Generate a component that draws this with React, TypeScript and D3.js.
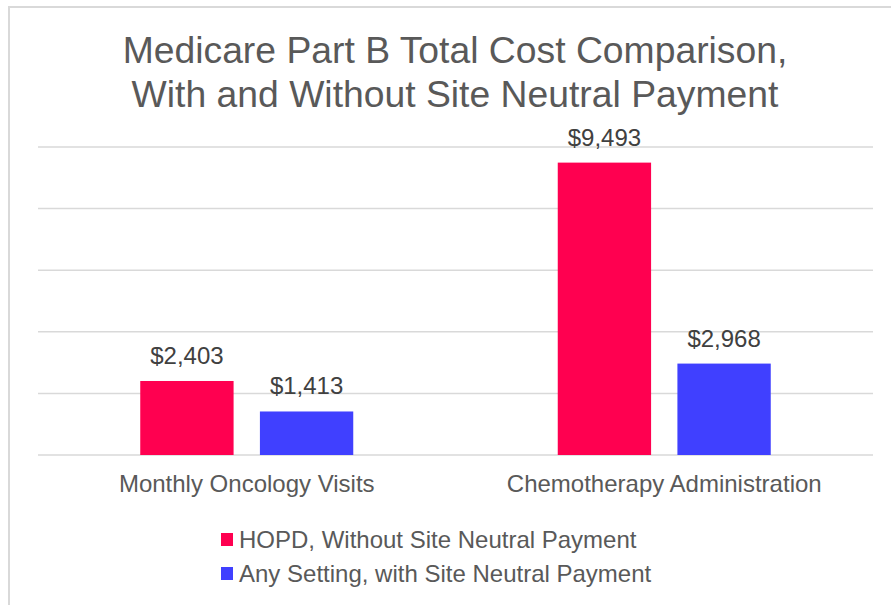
import { useEffect, useRef } from 'react'
import * as d3 from 'd3'

const categories = ['Monthly Oncology Visits', 'Chemotherapy Administration']
const seriesNames = ['HOPD, Without Site Neutral Payment', 'Any Setting, with Site Neutral Payment']
const hopdValues = [2403, 9493]
const anySettingValues = [1413, 2968]
const gridTicks = [0, 2000, 4000, 6000, 8000, 10000]
const titleLines = ['Medicare Part B Total Cost Comparison,', 'With and Without Site Neutral Payment']

const colors = ['#FF0050', '#4040FF']
const textColor = '#595959'
const gridColor = '#d9d9d9'
const font = '"Liberation Sans", Arial, sans-serif'

function App() {
  const chartRef = useRef<SVGSVGElement>(null)

  useEffect(() => {
    const width = 891
    const height = 605
    const left = 38
    const right = 873
    const top = 147
    const bottom = 455

    const svg = d3.select(chartRef.current)
    svg.selectAll('*').remove()

    svg.append('rect')
      .attr('width', width)
      .attr('height', height)
      .attr('fill', '#fff')

    // Outer chart border (cut off on the right and bottom)
    svg.append('rect')
      .attr('x', 9)
      .attr('y', 7)
      .attr('width', width + 20)
      .attr('height', height + 20)
      .attr('fill', 'none')
      .attr('stroke', gridColor)
      .attr('stroke-width', 2)

    // Title
    svg.append('text')
      .attr('x', 455)
      .attr('text-anchor', 'middle')
      .style('font-family', font)
      .style('font-size', '37.3px')
      .style('fill', textColor)
      .selectAll('tspan')
      .data(titleLines)
      .join('tspan')
      .attr('x', 455)
      .attr('y', (d, i) => 63 + i * 44)
      .text(d => d)

    const y = d3.scaleLinear()
      .domain([0, 10000])
      .range([bottom, top])

    const x0 = d3.scaleBand()
      .domain(categories)
      .range([left, right])

    const groupWidth = 213
    const x1 = d3.scaleBand()
      .domain(seriesNames)
      .range([-groupWidth / 2, groupWidth / 2])
      .paddingInner(0.22)

    // Gridlines
    gridTicks.forEach(t => {
      svg.append('line')
        .attr('x1', left)
        .attr('x2', right)
        .attr('y1', y(t))
        .attr('y2', y(t))
        .attr('stroke', gridColor)
        .attr('stroke-width', 1.5)
    })

    const series = [hopdValues, anySettingValues]

    series.forEach((values, s) => {
      values.forEach((v, i) => {
        const cx = x0(categories[i])! + x0.bandwidth() / 2
        const bx = cx + x1(seriesNames[s])!
        svg.append('rect')
          .attr('x', bx)
          .attr('y', y(v))
          .attr('width', x1.bandwidth())
          .attr('height', y(0) - y(v))
          .attr('fill', colors[s])

        svg.append('text')
          .attr('x', bx + x1.bandwidth() / 2)
          .attr('y', y(v) - 17)
          .attr('text-anchor', 'middle')
          .style('font-family', font)
          .style('font-size', '24px')
          .style('fill', '#404040')
          .text(d3.format('$,')(v))
      })
    })

    // Category labels
    categories.forEach(c => {
      svg.append('text')
        .attr('x', x0(c)! + x0.bandwidth() / 2)
        .attr('y', 492)
        .attr('text-anchor', 'middle')
        .style('font-family', font)
        .style('font-size', '24px')
        .style('fill', textColor)
        .text(c)
    })

    // Legend
    seriesNames.forEach((name, i) => {
      const ly = 548 + i * 34
      svg.append('rect')
        .attr('x', 221)
        .attr('y', ly - 15)
        .attr('width', 12)
        .attr('height', 13)
        .attr('fill', colors[i])
      svg.append('text')
        .attr('x', 239)
        .attr('y', ly)
        .style('font-family', font)
        .style('font-size', '24px')
        .style('fill', textColor)
        .text(name)
    })
  }, [])

  return (
    <svg
      ref={chartRef}
      width={891}
      height={605}
      style={{ position: 'absolute', left: 0, top: 0, display: 'block' }}
    />
  )
}

export default App
